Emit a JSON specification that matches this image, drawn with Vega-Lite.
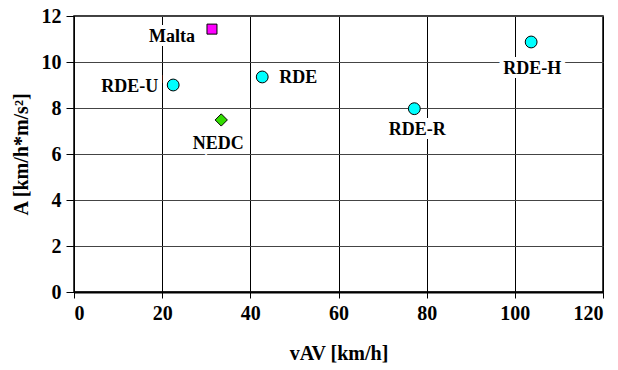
{
  "$schema": "https://vega.github.io/schema/vega-lite/v6.json",
  "width": 529,
  "height": 276,
  "autosize": {"type": "none"},
  "padding": {"left": 74, "top": 16, "right": 15, "bottom": 78},
  "background": "white",
  "config": {
    "view": {"stroke": "#000", "strokeWidth": 1.5},
    "font": "Liberation Serif",
    "axis": {
      "labelFont": "Liberation Serif",
      "labelFontWeight": "bold",
      "labelFontSize": 20,
      "labelColor": "#000",
      "titleFont": "Liberation Serif",
      "titleFontWeight": "bold",
      "titleFontSize": 20,
      "titleColor": "#000",
      "tickColor": "#000",
      "domainColor": "#000",
      "gridOpacity": 1
    }
  },
  "data": {
    "values": [
      {"name": "Malta", "group": "Malta", "v": 31.3, "A": 11.43},
      {"name": "RDE-U", "group": "RDE", "v": 22.5, "A": 9.0},
      {"name": "RDE", "group": "RDE", "v": 42.7, "A": 9.35},
      {"name": "NEDC", "group": "NEDC", "v": 33.4, "A": 7.48},
      {"name": "RDE-R", "group": "RDE", "v": 77.2, "A": 7.97},
      {"name": "RDE-H", "group": "RDE", "v": 103.7, "A": 10.87}
    ]
  },
  "encoding": {
    "x": {
      "field": "v", "type": "quantitative",
      "scale": {"domain": [0, 120], "nice": false},
      "axis": {"values": [0, 20, 40, 60, 80, 100, 120], "title": "vAV [km/h]", "gridColor": "#000", "tickSize": 6, "labelPadding": 5, "titlePadding": 20, "domainWidth": 2}
    },
    "y": {
      "field": "A", "type": "quantitative",
      "scale": {"domain": [0, 12], "nice": false},
      "axis": {"values": [0, 2, 4, 6, 8, 10, 12], "title": "A [km/h*m/s²]", "gridColor": "#444", "tickSize": 8, "labelPadding": 5, "titlePadding": 10}
    }
  },
  "layer": [
    {
      "mark": {"type": "point", "filled": true, "stroke": "#000", "strokeWidth": 1, "opacity": 1},
      "encoding": {
        "shape": {"field": "group", "type": "nominal", "scale": {"domain": ["RDE", "Malta", "NEDC"], "range": ["circle", "square", "diamond"]}, "legend": null},
        "fill": {"field": "group", "type": "nominal", "scale": {"domain": ["RDE", "Malta", "NEDC"], "range": ["#00FFFF", "#FF00FF", "#33DD00"]}, "legend": null},
        "size": {"field": "group", "type": "nominal", "scale": {"type": "ordinal", "domain": ["RDE", "Malta", "NEDC"], "range": [140, 100, 150]}, "legend": null}
      }
    },
    {
      "transform": [{"filter": "datum.name === 'Malta'"}],
      "encoding": {"text": {"field": "name"}},
      "layer": [
        {"mark": {"type": "text", "align": "right", "baseline": "middle", "dx": -17, "dy": 8, "font": "Liberation Serif", "fontWeight": "bold", "fontSize": 18, "stroke": "white", "strokeWidth": 8, "fill": "white"}},
        {"mark": {"type": "text", "align": "right", "baseline": "middle", "dx": -17, "dy": 8, "font": "Liberation Serif", "fontWeight": "bold", "fontSize": 18, "fill": "#000"}}
      ]
    },
    {
      "transform": [{"filter": "datum.name === 'RDE-U'"}],
      "encoding": {"text": {"field": "name"}},
      "layer": [
        {"mark": {"type": "text", "align": "right", "baseline": "middle", "dx": -15, "dy": 2, "font": "Liberation Serif", "fontWeight": "bold", "fontSize": 18, "stroke": "white", "strokeWidth": 8, "fill": "white"}},
        {"mark": {"type": "text", "align": "right", "baseline": "middle", "dx": -15, "dy": 2, "font": "Liberation Serif", "fontWeight": "bold", "fontSize": 18, "fill": "#000"}}
      ]
    },
    {
      "transform": [{"filter": "datum.name === 'RDE'"}],
      "encoding": {"text": {"field": "name"}},
      "layer": [
        {"mark": {"type": "text", "align": "left", "baseline": "middle", "dx": 17, "dy": 1, "font": "Liberation Serif", "fontWeight": "bold", "fontSize": 18, "stroke": "white", "strokeWidth": 8, "fill": "white"}},
        {"mark": {"type": "text", "align": "left", "baseline": "middle", "dx": 17, "dy": 1, "font": "Liberation Serif", "fontWeight": "bold", "fontSize": 18, "fill": "#000"}}
      ]
    },
    {
      "transform": [{"filter": "datum.name === 'NEDC'"}],
      "encoding": {"text": {"field": "name"}},
      "layer": [
        {"mark": {"type": "text", "align": "center", "baseline": "middle", "dx": -3, "dy": 24, "font": "Liberation Serif", "fontWeight": "bold", "fontSize": 18, "stroke": "white", "strokeWidth": 8, "fill": "white"}},
        {"mark": {"type": "text", "align": "center", "baseline": "middle", "dx": -3, "dy": 24, "font": "Liberation Serif", "fontWeight": "bold", "fontSize": 18, "fill": "#000"}}
      ]
    },
    {
      "transform": [{"filter": "datum.name === 'RDE-R'"}],
      "encoding": {"text": {"field": "name"}},
      "layer": [
        {"mark": {"type": "text", "align": "center", "baseline": "middle", "dx": 3, "dy": 21, "font": "Liberation Serif", "fontWeight": "bold", "fontSize": 18, "stroke": "white", "strokeWidth": 8, "fill": "white"}},
        {"mark": {"type": "text", "align": "center", "baseline": "middle", "dx": 3, "dy": 21, "font": "Liberation Serif", "fontWeight": "bold", "fontSize": 18, "fill": "#000"}}
      ]
    },
    {
      "transform": [{"filter": "datum.name === 'RDE-H'"}],
      "encoding": {"text": {"field": "name"}},
      "layer": [
        {"mark": {"type": "text", "align": "center", "baseline": "middle", "dx": 1, "dy": 27, "font": "Liberation Serif", "fontWeight": "bold", "fontSize": 18, "stroke": "white", "strokeWidth": 8, "fill": "white"}},
        {"mark": {"type": "text", "align": "center", "baseline": "middle", "dx": 1, "dy": 27, "font": "Liberation Serif", "fontWeight": "bold", "fontSize": 18, "fill": "#000"}}
      ]
    }
  ]
}
